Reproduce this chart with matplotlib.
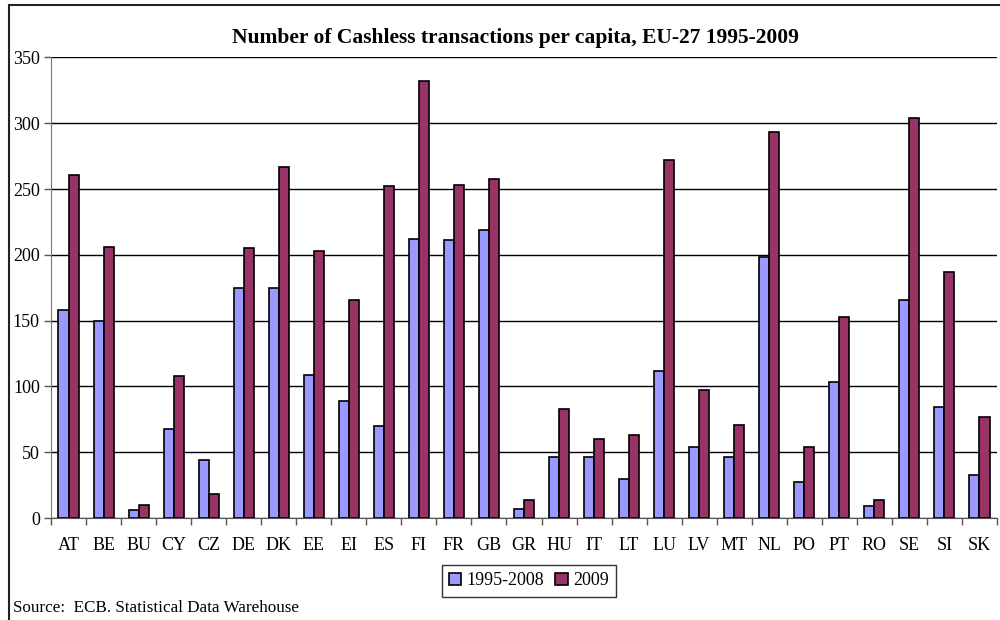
import numpy as np
import matplotlib.pyplot as plt
from matplotlib.patches import Rectangle

plt.rcParams['font.family'] = ['Liberation Serif', 'DejaVu Serif']

countries = ['AT', 'BE', 'BU', 'CY', 'CZ', 'DE', 'DK', 'EE', 'EI', 'ES', 'FI', 'FR', 'GB', 'GR',
             'HU', 'IT', 'LT', 'LU', 'LV', 'MT', 'NL', 'PO', 'PT', 'RO', 'SE', 'SI', 'SK']
avg_1995_2008 = [158, 150, 6, 68, 44, 175, 175, 109, 89, 70, 212, 211, 219, 7,
                 46, 46, 30, 112, 54, 46, 198, 27, 103, 9, 166, 84, 33]
val_2009 = [261, 206, 10, 108, 18, 205, 267, 203, 166, 252, 332, 253, 258, 14,
            83, 60, 63, 272, 97, 71, 293, 54, 153, 14, 304, 187, 77]

fig = plt.figure(figsize=(10, 6.2), dpi=100)
ax = fig.add_axes((0.051, 0.1645, 0.946, 0.7428))

x = np.arange(len(countries))
w = 0.286
ax.bar(x - w/2, avg_1995_2008, w, color='#9999FF', edgecolor='black', linewidth=1.2,
       label='1995-2008', zorder=3)
ax.bar(x + w/2, val_2009, w, color='#993366', edgecolor='black', linewidth=1.2,
       label='2009', zorder=3)

ax.set_xlim(-0.5, len(countries) - 0.5)
ax.set_ylim(0, 350)
ax.set_yticks(range(0, 351, 50))
ax.yaxis.grid(True, color='black', linewidth=1, zorder=0)
ax.set_xticks(x)
ax.set_xticklabels(countries)
ax.set_xticks(np.arange(-0.5, len(countries), 1), minor=True)
ax.tick_params(axis='x', which='major', length=0, pad=14, labelsize=13)
ax.tick_params(axis='x', which='minor', length=5, width=1, color='#555555')
ax.tick_params(axis='y', length=5, width=1, color='#555555', labelsize=13, pad=3)

for s in ['top', 'right']:
    ax.spines[s].set_visible(False)
ax.spines['left'].set_color('#777777')
ax.spines['bottom'].set_color('#555555')

fig.text(0.515, 0.938, 'Number of Cashless transactions per capita, EU-27 1995-2009',
         ha='center', va='center', fontsize=15.5, fontweight='bold')

leg = fig.legend(loc='center', bbox_to_anchor=(0.529, 0.063), ncol=2, fontsize=13,
                 frameon=True, fancybox=False, edgecolor='black', handlelength=0.7,
                 handleheight=0.7, handletextpad=0.3, columnspacing=0.6,
                 borderpad=0.4)
leg.get_frame().set_linewidth(1)

fig.text(0.013, 0.019, 'Source:  ECB. Statistical Data Warehouse', ha='left', va='center',
         fontsize=12.3)

fig.patches.append(Rectangle((0.0085, -0.1), 1.2, 1.092, transform=fig.transFigure,
                             fill=False, edgecolor='#222222', linewidth=1.5))

fig.savefig('out.png', dpi=100)
